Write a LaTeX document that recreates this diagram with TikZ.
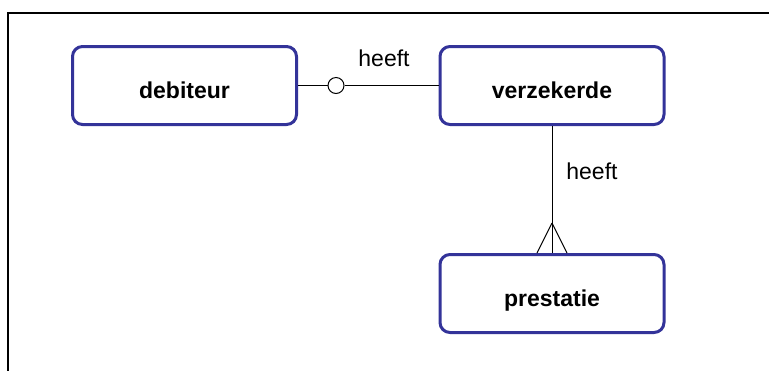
\documentclass[tikz,border=0pt]{standalone}
\usepackage{fontspec}
\setmainfont{Liberation Sans}
\usepackage{tikz}
\usetikzlibrary{calc}
\usetikzlibrary{positioning}
\definecolor{entblue}{RGB}{51,51,153}

\begin{document}
\begin{tikzpicture}[x=0.5pt, y=-0.5pt,
    ent/.style={draw=entblue, line width=1.5pt, rounded corners=5pt, fill=white,
        minimum width=112pt, minimum height=39pt, text height=13pt, text depth=0pt,
        font=\fontsize{11.5}{14}\selectfont\bfseries},
    rel/.style={inner sep=0pt, font=\fontsize{11.5}{14}\selectfont},
    lnk/.style={line width=0.5pt}]
    \useasboundingbox (0,0) rectangle (769,371);
    \draw[line width=0.8pt] (769,13) -- (8,13) -- (8,371);

    \node[ent] (deb) at (184.5, 85.5) {debiteur};
    \node[ent] (verz) at (552, 85.5) {verzekerde};
    \node[ent] (prest) at (552, 293.5) {prestatie};

    \node[lnk, draw, circle, fill=white, minimum size=8pt, inner sep=0pt] (opt) at (336, 85.5) {};
    \coordinate (apex) at (552, 223);

    \node[rel] (rel1) at (384, 58.7) {heeft};
    \node[rel, anchor=west] (rel2) at (566, 171) {heeft};

    \draw[lnk] (deb) -- (opt);
    \draw[lnk] (opt) -- (verz);
    \draw[lnk] (verz) -- (prest);
    \draw[lnk] (apex) -- ([xshift=-7.5pt]prest.north);
    \draw[lnk] (apex) -- ([xshift=7.5pt]prest.north);
\end{tikzpicture}
\end{document}
